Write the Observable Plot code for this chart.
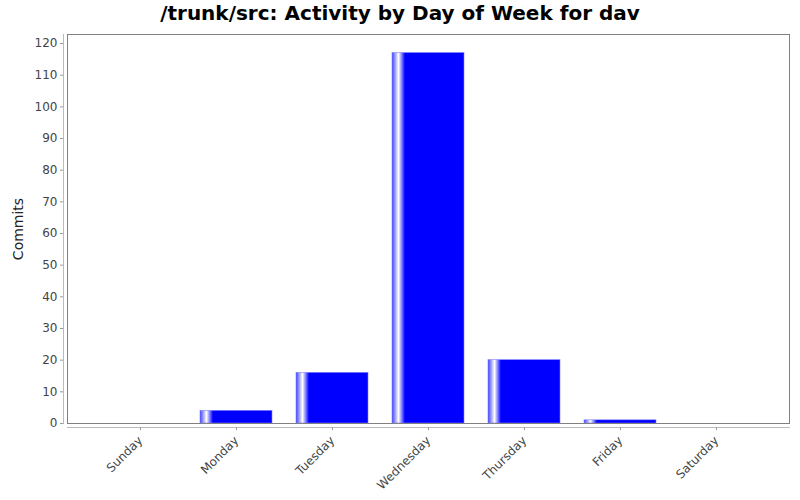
<!DOCTYPE html>
<html><head>
<meta charset="utf-8">
<script src="https://cdn.jsdelivr.net/npm/d3@7"></script>
<script src="https://cdn.jsdelivr.net/npm/@observablehq/plot@0.6"></script>
<style>
body{margin:0;background:#fff;font-family:"DejaVu Sans",sans-serif}
#title{height:33px;line-height:27px;text-align:center;font-weight:bold;font-size:20px;color:#000}
</style>
</head><body>
<div id="title">/trunk/src: Activity by Day of Week for dav</div>
<div id="chart"></div>
<script>
const days = ["Sunday","Monday","Tuesday","Wednesday","Thursday","Friday","Saturday"];
const commits = [0, 4, 16, 117, 20, 1, 0];
const yTicks = [0,10,20,30,40,50,60,70,80,90,100,110,120];
const yMax = 122.85;

const data = days.map((d, i) => ({day: d, commits: commits[i]}));

const chart = Plot.plot({
  width: 800,
  height: 467,
  marginLeft: 67,
  marginRight: 11,
  marginTop: 1,
  marginBottom: 77,
  style: {fontFamily: "DejaVu Sans, sans-serif", fontSize: "12px", color: "#444", background: "#fff"},
  x: {domain: days, paddingInner: 0.25, paddingOuter: 0.385},
  y: {domain: [0, yMax]},
  marks: [
    Plot.barY(data, {x: "day", y: "commits", fill: "url(#barGrad)", stroke: "#8080ff", strokeWidth: 0.6}),
    Plot.frame({stroke: "#808080"}),
    Plot.frame({anchor: "left", dx: -4, stroke: "#bbb"}),
    Plot.frame({anchor: "bottom", dy: 4, stroke: "#bbb"}),
    Plot.axisY({ticks: yTicks, tickSize: 3, dx: -4, tickPadding: 3, stroke: "#999", fill: "#444", fontSize: 12,
      label: "Commits", labelAnchor: "center", labelArrow: "none", labelOffset: 54}),
    Plot.axisX({tickSize: 3, dy: 4, tickRotate: -45, tickPadding: 8, stroke: "#999", fill: "#444", fontSize: 12, label: null})
  ]
});

const ns = "http://www.w3.org/2000/svg";
const defs = document.createElementNS(ns, "defs");
defs.innerHTML = `<linearGradient id="barGrad" x1="0" y1="0" x2="1" y2="0">
  <stop offset="0" stop-color="#4040ff"/>
  <stop offset="0.09" stop-color="#ffffff"/>
  <stop offset="0.18" stop-color="#0000ff"/>
  <stop offset="1" stop-color="#0000ff"/>
</linearGradient>`;
chart.insertBefore(defs, chart.firstChild);
chart.querySelectorAll("[aria-label='y-axis label']").forEach(g => {
  g.style.fontSize = "14px";
  g.setAttribute("fill", "#222");
  g.querySelectorAll("text").forEach(t => { t.style.fontSize = "14px"; t.setAttribute("fill", "#222"); });
});
document.getElementById("chart").appendChild(chart);
</script>
</body></html>
